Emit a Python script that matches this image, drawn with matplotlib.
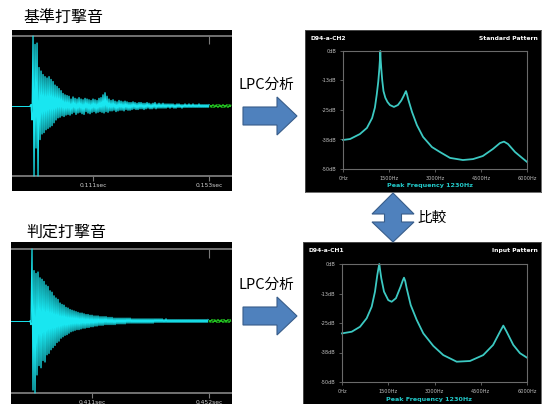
import numpy as np
import matplotlib
matplotlib.use('Agg')
from matplotlib import pyplot as plt
from matplotlib.patches import Polygon

plt.rcParams['font.family'] = ['Noto Sans CJK JP', 'DejaVu Sans']

# ---- strike waveforms: amplitude in % of full scale, one value per sample ----
wave_ref = [
    0, 2, -20, 100, -100, 88, -60, 90, -100, 55,
    -48, 50, -40, 45, -38, 42, -34, 40, -32, 42,
    -30, 38, -28, 35, -24, 30, -20, 28, -17, 25,
    -16, 22, -14, 18, -15, 16, -13, 15, -12, 14,
    -13, 10, -11, 13, -9, 11, -12, 10, -10, 12,
    -9, 10, -11, 9, -12, 11, -8, 10, -10, 9,
    -11, 8, -9, 10, -8, 9, -10, 8, -9, 11,
    -8, 12, -9, 16, -10, 19, -8, 14, -9, 10,
    -7, 8, -7, 9, -6, 7, -8, 6, -7, 8,
    -6, 7, -6, 6, -7, 7, -5, 6, -6, 5,
    -6, 5, -5, 6, -4, 5, -5, 4, -5, 5,
    -4, 5, -4, 4, -5, 4, -4, 5, -3, 4,
    -4, 3, -4, 4, -3, 5, -4, 3, -3, 4,
    -3, 3, -3, 4, -3, 3, -3, 3, -2, 3,
    -3, 3, -2, 3, -3, 2, -3, 3, -2, 3,
    -2, 2, -3, 2, -2, 3, -2, 2, -2, 3,
    -2, 2, -2, 3, -2, 2, -2, 2, -2, 3,
    -2, 2, -2, 2, -2, 2, -2, 2, -2, 2,
    -2, 2, -2, 2, -2, 2, -2, 2, -2, 2,
    -2, 2, -2, 2, -2, 2, -2, 2, -2, 2,
    -2, 2,
]
wave_test = [
    0, -5, 100, -96, 70, -100, 66, -75, 68, -62,
    60, -65, 58, -55, 55, -57, 50, -47, 48, -45,
    42, -40, 40, -37, 35, -34, 32, -30, 30, -28,
    25, -24, 23, -22, 22, -20, 19, -19, 18, -17,
    16, -15, 15, -14, 14, -13, 13, -12, 12, -12,
    11, -11, 11, -10, 10, -10, 9, -9, 9, -9,
    8, -8, 8, -8, 7, -7, 7, -7, 7, -6,
    6, -6, 6, -6, 6, -5, 6, -5, 5, -5,
    5, -5, 5, -5, 4, -5, 4, -4, 4, -4,
    4, -4, 4, -4, 4, -4, 4, -3, 4, -3,
    4, -3, 3, -3, 3, -3, 3, -3, 3, -3,
    3, -3, 3, -3, 3, -3, 3, -3, 3, -3,
    3, -3, 3, -3, 3, -2, 3, -2, 3, -2,
    3, -2, 3, -2, 2, -2, 3, -2, 2, -2,
    2, -2, 2, -2, 2, -2, 2, -2, 2, -2,
    2, -2, 2, -2, 2, -2, 2, -2, 2, -2,
    2, -2, 2, -2, 2, -2, 2, -2, 2, -2,
    2, -2, 2, -2, 2, -2, 2, -2, 2, -2,
    2, -2, 2, -2, 2, -2, 2, -2, 2, -2,
    2, -2, 2, -2, 2, -2, 2, -2, 2, -2,
    2, -2,
]
ref_t0, ref_dt = 0.0882, 0.000362      # sec
test_t0, test_dt = 0.38928, 0.0003504
ref_xlim = (0.08167, 0.16133)
test_xlim = (0.38262, 0.46006)
ref_ticks = [0.111, 0.153]
test_ticks = [0.411, 0.452]

# ---- LPC spectra (Hz, dB) ----
freq_ref = [0, 230, 550, 780, 950, 1040, 1100, 1150, 1185, 1205, 1216, 1228,
            1250, 1280, 1320, 1380, 1450, 1530, 1660, 1790, 1900, 1980, 2030,
            2054, 2085, 2130, 2250, 2410, 2610, 2900, 3160, 3490, 3910, 4240,
            4560, 4890, 5120, 5250, 5380, 5610, 5840, 6000]
db_ref = [-37.7, -37.3, -35.2, -32.6, -28.4, -24.0, -18.5, -13.0, -7.5, -3.5, 0, -3.5,
          -7.8, -12.5, -17.0, -19.8, -21.6, -22.9, -23.7, -22.9, -21.0, -19.0, -17.6,
          -17.0, -18.3, -20.6, -25.8, -31.4, -36.4, -40.7, -42.8, -45.3, -46.2, -45.8,
          -44.5, -41.5, -39.0, -38.4, -39.4, -42.8, -45.3, -47.0]
freq_test = [0, 315, 584, 800, 963, 1070, 1145, 1180, 1210, 1240, 1275, 1362,
             1500, 1610, 1750, 1900, 1970, 2011, 2050, 2098, 2228, 2423, 2637,
             2960, 3285, 3720, 4150, 4580, 4900, 5124, 5232, 5340, 5556, 5773, 6000]
db_test = [-29.4, -28.7, -26.6, -23.0, -18.1, -11.7, -4.7, -2.0, 0, -3.0, -6.1, -11.7,
           -15.3, -16.0, -14.5, -9.6, -7.0, -5.8, -7.2, -10.3, -17.4, -23.7, -29.4,
           -34.7, -38.6, -41.4, -41.1, -38.6, -34.3, -28.7, -26.1, -28.7, -34.3, -37.8, -39.7]
freq_ticks = [0, 1500, 3000, 4500, 6000]
freq_labels = ['0Hz', '1500Hz', '3000Hz', '4500Hz', '6000Hz']
db_ticks = [0, -12.5, -25, -37.5, -50]
db_labels = ['0dB', '-13dB', '-25dB', '-38dB', '-50dB']

W, H = 542, 404
fig = plt.figure(figsize=(W / 100, H / 100), dpi=100)
fig.patch.set_facecolor('white')


def px_axes(x0, y0, x1, y1):
    # axes placed by pixel box (top-left origin)
    return fig.add_axes([x0 / W, 1 - y1 / H, (x1 - x0) / W, (y1 - y0) / H])


def draw_wave(ax, vals, t0, dt, xlim, ticks, ylim):
    ax.set_facecolor('black')
    for s in ax.spines.values():
        s.set_visible(False)
    ax.set_xticks([])
    ax.set_yticks([])
    ax.set_xlim(*xlim)
    ax.set_ylim(*ylim)
    t = t0 + dt * np.arange(len(vals))
    v = np.array(vals) / 100.0
    ax.axhline(1, color='#7a7a7a', lw=1.3)
    ax.axhline(-1, color='#7a7a7a', lw=1.3)
    ax.plot([xlim[0], t[0]], [0, 0], color='#19e6f0', lw=0.7)
    ax.vlines(ticks, -1.07, -1, color='#7a7a7a', lw=0.8)
    ax.vlines(ticks[1], 0.88, 1, color='#7a7a7a', lw=0.8)
    cut = t <= ticks[1]
    ax.plot(t[cut], v[cut], color='#19e6f0', lw=0.9)
    ax.plot(t[~cut], v[~cut], color='#22c020', lw=0.9, ls=(0, (2, 1)))
    for tk in ticks:
        ax.text(tk, -1.135, '%.3fsec' % tk, color='#d0d0d0', fontsize=4.3,
                ha='center', va='center', family='DejaVu Sans')


def draw_spec(outer, inner, freq, db, name, pattern, peak_y):
    outer.set_facecolor('black')
    outer.set_xticks([])
    outer.set_yticks([])
    for s in outer.spines.values():
        s.set_color('#555555')
        s.set_linewidth(0.6)
    outer.set_xlim(0, 1)
    outer.set_ylim(0, 1)
    outer.text(0.025, 0.965, name, color='white', fontsize=4.3, fontweight='bold',
               ha='left', va='top', family='DejaVu Sans')
    outer.text(0.985, 0.965, pattern, color='white', fontsize=4.3, fontweight='bold',
               ha='right', va='top', family='DejaVu Sans')
    outer.text(0.53, peak_y, 'Peak Frequency 1230Hz', color='#22c8c8', fontsize=4.6,
               fontweight='bold', ha='center', va='center', family='DejaVu Sans')

    inner.set_facecolor('black')
    inner.plot(freq, db, color='#3cc9c2', lw=1.3, clip_on=False)
    inner.set_xlim(0, 6000)
    inner.set_ylim(-50, 0)
    for s in inner.spines.values():
        s.set_color('#6a6a6a')
        s.set_linewidth(0.8)
    inner.set_xticks(freq_ticks)
    inner.set_xticklabels(freq_labels)
    inner.set_yticks(db_ticks)
    inner.set_yticklabels(db_labels)
    inner.tick_params(colors='#6a6a6a', labelcolor='#c0c0c0', labelsize=3.6,
                      length=2, width=0.6, pad=3)
    for lab in inner.get_xticklabels() + inner.get_yticklabels():
        lab.set_family('DejaVu Sans')


# left: strike waveforms
ax_w1 = px_axes(12, 30, 232, 191)
draw_wave(ax_w1, wave_ref, ref_t0, ref_dt, ref_xlim, ref_ticks, (-1.214, 1.086))
ax_w2 = px_axes(11, 242, 232, 404)
draw_wave(ax_w2, wave_test, test_t0, test_dt, test_xlim, test_ticks, (-1.153, 1.097))

# right: LPC spectra
o1 = px_axes(305, 30, 541, 192)
i1 = px_axes(343, 51, 527, 169)
draw_spec(o1, i1, freq_ref, db_ref, 'D94-a-CH2', 'Standard Pattern', 0.04)
o2 = px_axes(303, 242, 541, 404)
i2 = px_axes(342, 264, 527, 382)
draw_spec(o2, i2, freq_test, db_test, 'D94-a-CH1', 'Input Pattern', 0.025)

# overlay for labels and arrows, in pixel coordinates
ov = fig.add_axes([0, 0, 1, 1])
ov.set_xlim(0, W)
ov.set_ylim(H, 0)
ov.axis('off')
ov.patch.set_alpha(0)

ov.text(23, 17, '基準打撃音', fontsize=11.5, ha='left', va='center')
ov.text(26, 232, '判定打撃音', fontsize=11.5, ha='left', va='center')
ov.text(266, 85, 'LPC分析', fontsize=10.5, ha='center', va='center')
ov.text(266, 285, 'LPC分析', fontsize=10.5, ha='center', va='center')
ov.text(432, 218, '比較', fontsize=10.5, ha='center', va='center')

arrow_fc, arrow_ec = '#4f81bd', '#385d8a'
for yc in [116, 316]:
    pts = [(243, yc - 9), (277, yc - 9), (277, yc - 19), (297, yc),
           (277, yc + 19), (277, yc + 9), (243, yc + 9)]
    ov.add_patch(Polygon(pts, closed=True, fc=arrow_fc, ec=arrow_ec, lw=0.8))

dbl = [(393, 193), (414, 214), (401.5, 214), (401.5, 222), (414, 222), (393, 242),
       (372, 222), (384.5, 222), (384.5, 214), (372, 214)]
ov.add_patch(Polygon(dbl, closed=True, fc=arrow_fc, ec=arrow_ec, lw=0.8))

fig.savefig('out.png', dpi=100, facecolor='white')
